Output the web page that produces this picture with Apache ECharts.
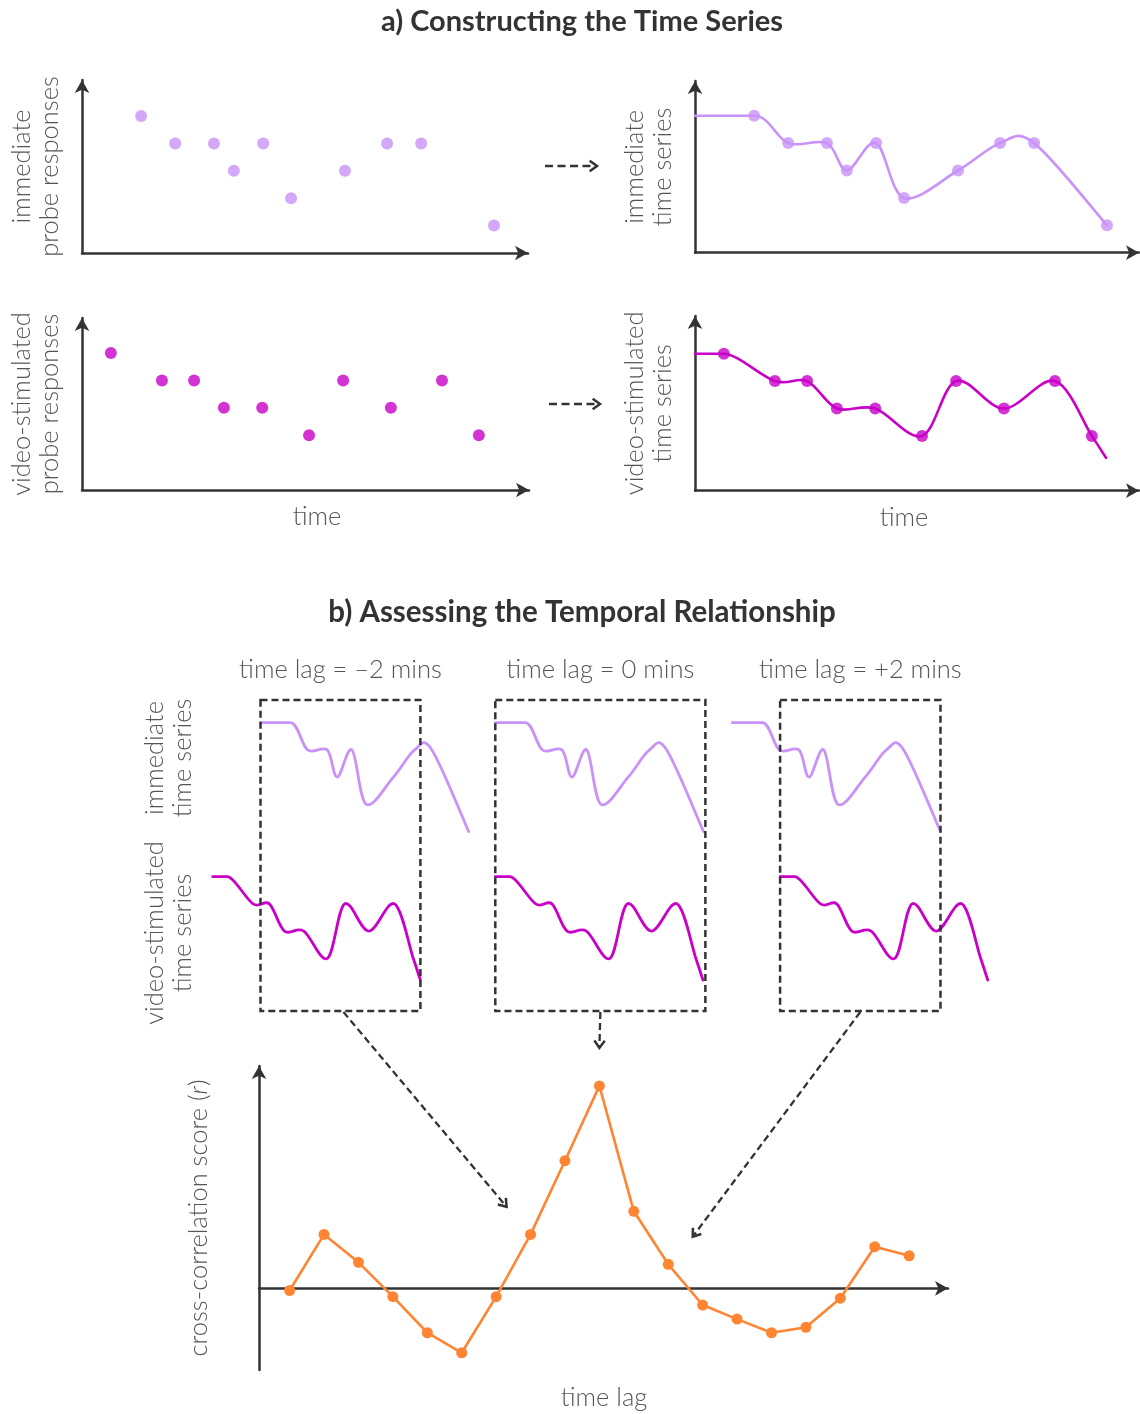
<!DOCTYPE html>
<html><head><meta charset="utf-8">
<script src="https://cdn.jsdelivr.net/npm/echarts@6/dist/echarts.min.js"></script>
<style>html,body{margin:0;padding:0;background:#fff}#c{width:1140px;height:1414px}</style>
</head><body><div id="c"></div>
<script>
// ---------------- data ----------------
// probe responses: time (minutes) and rating level (1-5)
const immTimes  = [1.25, 1.97, 2.79, 3.21, 3.83, 4.42, 5.56, 6.45, 7.17, 8.71];
const immLevels = [5, 4, 4, 3, 4, 2, 3, 4, 4, 1];
const vidTimes  = [0.61, 1.69, 2.37, 3.00, 3.81, 4.80, 5.52, 6.53, 7.61, 8.39];
const vidLevels = [5, 4, 4, 3, 3, 2, 4, 3, 4, 2];
const vidTail   = [8.69, 1.2];          // where the video-stimulated series ends
// cross-correlation
const lagMins   = [-9, -8, -7, -6, -5, -4, -3, -2, -1, 0, 1, 2, 3, 4, 5, 6, 7, 8, 9];
const xcorr     = [-0.01, 0.245, 0.118, -0.038, -0.202, -0.293, -0.038, 0.245, 0.58, 0.92,
                   0.35, 0.109, -0.076, -0.14, -0.202, -0.177, -0.045, 0.189, 0.148];
// lag windows
const windowLags   = [-2, 0, 2];
const windowLabels = ['time lag = \u20132 mins', 'time lag = 0 mins', 'time lag = +2 mins'];
// texts
const titleA = 'a) Constructing the Time Series';
const titleB = 'b) Assessing the Temporal Relationship';

// ---------------- style ----------------
const PURPLE = '#C892F8', MAGENTA = '#C800C8', ORANGE = '#FF8533', INK = '#333333', TXT = '#555555';
const FONT = 'Lato, "Open Sans", sans-serif';
const FS = 25.5;

const chart = echarts.init(document.getElementById('c'), null, {renderer: 'canvas', width: 1140, height: 1414});

const pxMinA = 47.3, pxLvlA = 27.4;       // panel a scales
const pxMinB = 23.9, pxLvlB = 27.2;       // panel b window scales

const gridsA = [
  {left: 82,  top: 80,  width: 446, height: 173},
  {left: 695, top: 81,  width: 444, height: 171.7},
  {left: 82,  top: 318, width: 447, height: 172},
  {left: 695, top: 316, width: 444, height: 174.7}
];
const winLefts = [212.7, 495.3, 732.3];
const winTop = 700, winH = 311, winW = 10.8 * pxMinB;
const gridC = {left: 259, top: 1066, width: 689, height: 304};

const grids = [];
gridsA.forEach(g => grids.push(Object.assign({outerBoundsMode: 'none', containLabel: false}, g)));
winLefts.forEach(l => grids.push({left: l, top: winTop, width: winW, height: winH, outerBoundsMode: 'none', containLabel: false}));
grids.push(Object.assign({outerBoundsMode: 'none', containLabel: false}, gridC));

const axisLineArrow = {show: true, onZero: false, symbol: ['none', 'arrow'], symbolSize: [11, 13],
  lineStyle: {color: INK, width: 2.5}};
const hid = {axisTick: {show: false}, axisLabel: {show: false}, splitLine: {show: false}};
const nameStyle = {fontFamily: FONT, fontSize: FS, fontWeight: 300, color: TXT, lineHeight: 28};

const xAxes = [], yAxes = [];
const yNamesA = ['immediate\nprobe responses', 'immediate\ntime series',
                 'video-stimulated\nprobe responses', 'video-stimulated\ntime series'];
gridsA.forEach((g, i) => {
  xAxes.push(Object.assign({type: 'value', gridIndex: i, min: 0, max: g.width / pxMinA,
    axisLine: axisLineArrow}, hid));
  yAxes.push(Object.assign({type: 'value', gridIndex: i, min: 0, max: g.height / pxLvlA,
    axisLine: axisLineArrow, name: yNamesA[i], nameLocation: 'middle', nameGap: 18,
    nameTextStyle: nameStyle}, hid));
});
// window axes (purple on top, magenta below)
const pMax = 5 + 22.7 / pxLvlB, pMin = pMax - winH / pxLvlB;
const mMax = 5 + 176.7 / pxLvlB, mMin = mMax - winH / pxLvlB;
winLefts.forEach((l, w) => {
  const gi = 4 + w;
  xAxes.push({type: 'value', gridIndex: gi, min: 0, max: 10.8, show: false});
  yAxes.push({type: 'value', gridIndex: gi, min: pMin, max: pMax, show: false});
  yAxes.push({type: 'value', gridIndex: gi, min: mMin, max: mMax, show: false});
});
// cross-correlation axes
const pxLag = 34.42, zeroX = 599.4, pxR = 220, zeroY = 1288.3;
xAxes.push(Object.assign({type: 'value', gridIndex: 7,
  min: (gridC.left - zeroX) / pxLag, max: (gridC.left + gridC.width - zeroX) / pxLag,
  axisLine: Object.assign({}, axisLineArrow, {onZero: true})}, hid));
yAxes.push(Object.assign({type: 'value', gridIndex: 7,
  min: (zeroY - (gridC.top + gridC.height)) / pxR, max: (zeroY - gridC.top) / pxR,
  axisLine: axisLineArrow,
  name: 'cross-correlation score ({i|r})', nameLocation: 'middle', nameGap: 46,
  nameTextStyle: Object.assign({}, nameStyle, {rich: {i: {fontFamily: FONT, fontSize: FS, fontWeight: 300, fontStyle: 'italic', color: TXT}}})}, hid));

const pairs = (xs, ys, dx) => xs.map((x, i) => [x + (dx || 0), ys[i]]);

// Catmull-Rom path through the pixel positions of the data points;
// the tangent at the first sample is kept level (the series is held flat before it)
function catmull(P) {
  const T = P.map((p, i) => {
    const a = P[i - 1] || P[i], b = P[i + 1] || P[i];
    const t = [(b[0] - a[0]) / 6, (b[1] - a[1]) / 6];
    if (i === 1) t[1] = 0;
    if (i === 0) t[1] = 0;
    return t;
  });
  let d = 'M' + P[0][0] + ',' + P[0][1];
  for (let i = 0; i < P.length - 1; i++) {
    const p1 = P[i], p2 = P[i + 1];
    const c1 = [p1[0] + T[i][0], p1[1] + T[i][1]];
    const c2 = [p2[0] - T[i + 1][0], p2[1] - T[i + 1][1]];
    d += ' C' + c1[0] + ',' + c1[1] + ' ' + c2[0] + ',' + c2[1] + ' ' + p2[0] + ',' + p2[1];
  }
  return d;
}
function spline(xi, yi, pts, color, width) {
  return {type: 'custom', xAxisIndex: xi, yAxisIndex: yi, data: pts, clip: false, silent: true, z: 2,
    renderItem: function (params, api) {
      if (params.dataIndex !== 0) return null;
      const P = pts.map(p => api.coord(p));
      return {type: 'path', shape: {pathData: catmull(P)},
        style: {fill: 'none', stroke: color, lineWidth: width, lineJoin: 'round', lineCap: 'round'}};
    }};
}

const series = [];
// panel a
series.push({type: 'scatter', xAxisIndex: 0, yAxisIndex: 0, data: pairs(immTimes, immLevels),
  symbolSize: 12, itemStyle: {color: PURPLE}, silent: true});
series.push(spline(1, 1, [[0, immLevels[0]]].concat(pairs(immTimes, immLevels)), PURPLE, 2.6));
series.push({type: 'scatter', xAxisIndex: 1, yAxisIndex: 1, data: pairs(immTimes, immLevels),
  symbolSize: 12, itemStyle: {color: PURPLE}, silent: true, z: 3});
series.push({type: 'scatter', xAxisIndex: 2, yAxisIndex: 2, data: pairs(vidTimes, vidLevels),
  symbolSize: 12, itemStyle: {color: MAGENTA}, silent: true});
series.push(spline(3, 3, [[0, vidLevels[0]]].concat(pairs(vidTimes, vidLevels), [vidTail]), MAGENTA, 2.6));
series.push({type: 'scatter', xAxisIndex: 3, yAxisIndex: 3, data: pairs(vidTimes, vidLevels),
  symbolSize: 12, itemStyle: {color: MAGENTA}, silent: true, z: 3});

// panel b windows
const boxes = [];
windowLags.forEach((lag, w) => {
  const po = lag < 0 ? -lag : 0;   // immediate offset
  const mo = lag > 0 ? lag : 0;    // video offset
  const immEnd = immTimes[immTimes.length - 1] + po;
  const vidEnd = vidTail[0] + mo;
  const b0 = Math.max(po, mo), b1 = Math.min(immEnd, vidEnd) + (lag === 0 ? 0.1 : 0);
  boxes.push([b0, b1]);
  series.push(spline(4 + w, 4 + 2 * w, [[po, immLevels[0]]].concat(pairs(immTimes, immLevels, po)), PURPLE, 2.8));
  series.push(spline(4 + w, 5 + 2 * w, [[mo, vidLevels[0]]].concat(pairs(vidTimes, vidLevels, mo), [[vidTail[0] + mo, vidTail[1]]]), MAGENTA, 2.8));
  series.push({type: 'custom', xAxisIndex: 4 + w, yAxisIndex: 4 + 2 * w, data: [[b0, b1]], clip: false, silent: true, z: 4,
    renderItem: function (params, api) {
      const a = api.coord([api.value(0), pMax]);
      const b = api.coord([api.value(1), pMin]);
      return {type: 'rect', shape: {x: a[0], y: a[1], width: b[0] - a[0], height: b[1] - a[1]},
        style: {fill: 'none', stroke: INK, lineWidth: 2.5, lineDash: [7, 4]}};
    }});
});
// cross-correlation
series.push({type: 'line', xAxisIndex: 7, yAxisIndex: 10, data: pairs(lagMins, xcorr),
  symbol: 'circle', symbolSize: 11, showAllSymbol: true, itemStyle: {color: ORANGE},
  lineStyle: {color: ORANGE, width: 2.6}, silent: true});

chart.setOption({
  animation: false,
  backgroundColor: '#ffffff',
  grid: grids, xAxis: xAxes, yAxis: yAxes, series: series
});

// ---------------- annotations ----------------
function txt(x, y, text, opt) {
  return {type: 'text', x: x, y: y, silent: true,
    style: Object.assign({text: text, fill: TXT, font: '300 ' + FS + 'px ' + FONT, align: 'center', verticalAlign: 'middle'}, opt || {})};
}
function dashedArrow(p0, p1, dash) {
  const ang = Math.atan2(p1[1] - p0[1], p1[0] - p0[0]);
  const L = 9, a = 0.62;
  const h1 = [p1[0] - L * Math.cos(ang - a), p1[1] - L * Math.sin(ang - a)];
  const h2 = [p1[0] - L * Math.cos(ang + a), p1[1] - L * Math.sin(ang + a)];
  return [
    {type: 'line', silent: true, shape: {x1: p0[0], y1: p0[1], x2: p1[0] - 2 * Math.cos(ang), y2: p1[1] - 2 * Math.sin(ang)},
      style: {stroke: INK, lineWidth: 2.3, lineDash: dash || [7, 4]}},
    {type: 'polyline', silent: true, shape: {points: [h1, p1, h2]},
      style: {stroke: INK, lineWidth: 2.5, fill: null, lineJoin: 'miter'}}
  ];
}

let g = [];
g.push(txt(582, 22, titleA, {fill: '#333333', font: 'bold 29px ' + FONT}));
g.push(txt(582, 612, titleB, {fill: '#333333', font: 'bold 29.5px ' + FONT}));
g.push(txt(317, 517, 'time'));
g.push(txt(904, 518, 'time'));
g.push(txt(604, 1398, 'time lag'));
const rl1 = txt(169, 758, 'immediate\ntime series', {lineHeight: 28}); rl1.rotation = Math.PI / 2; g.push(rl1);
const rl2 = txt(169, 933, 'video-stimulated\ntime series', {lineHeight: 28}); rl2.rotation = Math.PI / 2; g.push(rl2);

// part a arrows between panels
g = g.concat(dashedArrow([545, 166], [597, 166], [8, 4.5]));
g = g.concat(dashedArrow([549, 404], [600, 404], [8, 4.5]));

// part b: labels and arrows from the windows to the cross-correlation points
const tipOffsets = [[-24, -27.6], [0, -38], [24.5, -27.6]];
windowLags.forEach((lag, w) => {
  const pa = chart.convertToPixel({xAxisIndex: 4 + w, yAxisIndex: 4 + 2 * w}, [boxes[w][0], 0]);
  const pb = chart.convertToPixel({xAxisIndex: 4 + w, yAxisIndex: 4 + 2 * w}, [boxes[w][1], 0]);
  const cx = (pa[0] + pb[0]) / 2;
  g.push(txt(cx, winTop - 30, windowLabels[w]));
  const idx = lagMins.indexOf(lag);
  const pt = chart.convertToPixel({xAxisIndex: 7, yAxisIndex: 10}, [lagMins[idx], xcorr[idx]]);
  const tip = [pt[0] + tipOffsets[w][0], pt[1] + tipOffsets[w][1]];
  g = g.concat(dashedArrow([cx + (w === 0 ? 3 : 0), winTop + winH + 1], tip));
});

chart.setOption({graphic: g});
</script>
</body></html>
